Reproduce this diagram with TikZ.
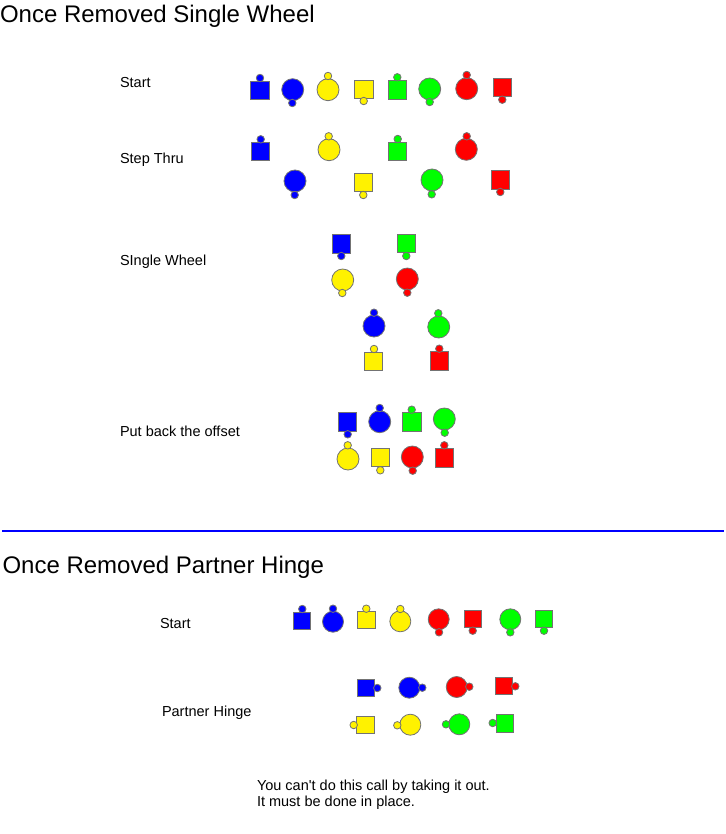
\documentclass[tikz,border=0pt]{standalone}
\usepackage{fontspec}
\setmainfont{Liberation Sans}
\usetikzlibrary{positioning}

\begin{document}
\begin{tikzpicture}[
            x = 1pt, % one unit is one pixel of the sheet
            y = -1pt,
            every node/.style = {inner sep = 0pt, outer sep = 0pt},
            body/.style = {draw = black!55, line width = 0.8pt},
            boy/.style = {body, rectangle, minimum size = 18.5pt},
            girl/.style = {body, circle, minimum size = 22pt},
            smallboy/.style = {body, rectangle, minimum size = 17.5pt},
            smallgirl/.style = {body, circle, minimum size = 21pt},
            nose/.style = {body, circle, minimum size = 7.5pt},
            heading/.style = {anchor = base west, font = \fontsize{24}{27}\selectfont},
            callname/.style = {anchor = base west, font = \fontsize{14.5}{16}\selectfont}
        ]

        \useasboundingbox (0,0) rectangle (725,834);

        % headings and call names
        \node[heading] (title1) at (0,23) {Once Removed Single Wheel};
        \node[callname] (start1) at (120,87.5) {Start};
        \node[callname] (thru) at (120,163.5) {Step Thru};
        \node[callname] (wheel) at (120,265.5) {SIngle Wheel};
        \node[callname] (offset) at (120,436.5) {Put back the offset};
        \node[heading] (title2) at (2.5,573) {Once Removed Partner Hinge};
        \node[callname] (start2) at (160,628.5) {Start};
        \node[callname] (hinge) at (162,716.5) {Partner Hinge};
        \node[callname, align = left, anchor = north west] (note) at (257,780)
            {You can\textquotesingle t do this call by taking it out.\\It must be done in place.};

        \coordinate (ruleL) at (2,531);
        \coordinate (ruleR) at (724,531);
        \draw[blue, line width = 2pt] (ruleL) -- (ruleR);

        % dancers: shape, colour, body centre, nose centre
        \foreach \kind/\col/\x/\y/\nx/\ny [count=\i] in {
            boy/blue/260/90.5/260/78, girl/blue/292.7/89.7/292.3/103,
            girl/yellow/328/89.7/328/76, boy/yellow/363.8/89.5/363.7/101,
            boy/green/397.3/89.7/397.3/77.3, girl/green/429.7/89/429.7/102,
            girl/red/466.7/88.7/466.7/75, boy/red/502.3/87.3/502.3/99.7,
            % step thru
            boy/blue/260.5/151.5/260.7/139.3, girl/yellow/329/149.7/328.7/136.3,
            boy/green/397.5/151.3/397.7/139, girl/red/466.3/149.3/466.7/136.3,
            girl/blue/295/181/294.7/195, boy/yellow/363.5/182.5/363.3/195,
            girl/green/432/180/431.7/194.3, boy/red/500.3/180/500.3/192,
            % single wheel
            boy/blue/341.3/244/341.3/256, boy/green/406.3/243.3/406.3/256,
            girl/yellow/342.7/280/342.3/293, girl/red/407.3/279/407.3/292.7,
            girl/blue/374/326/374/312.7, girl/green/438.7/327/438.3/313.3,
            boy/yellow/373.5/361.5/374/349, boy/red/439.3/361/439.3/348.7,
            % put back the offset
            boy/blue/347.3/421.7/347.7/434.3, girl/blue/379.7/421.7/379.7/408,
            boy/green/411.7/422/411.7/409.7, girl/green/444.3/419/444.7/432.7,
            girl/yellow/348/459/347.7/445.3, boy/yellow/380.3/457.3/380.3/470.3,
            girl/red/412.3/457/412.7/470.7, boy/red/444.3/457.7/444.3/445.3,
            % second start
            smallboy/blue/302/620.7/302.3/609, smallgirl/blue/333/621.7/333/608.7,
            smallboy/yellow/366.5/620/366.3/608.7, smallgirl/yellow/400.3/621.3/400.3/609,
            smallgirl/red/438.7/619.3/439/632.3, smallboy/red/472.7/619/472.7/630.7,
            smallgirl/green/510.3/619.3/510.3/632.3, smallboy/green/544/619/544/630.7,
            % partner hinge
            smallboy/blue/366/687.7/377.3/688, smallgirl/blue/409.3/687.7/422.3/687.7,
            smallgirl/red/456.7/687/469.3/686.7, smallboy/red/504/686/515.3/686.3,
            smallboy/yellow/365.5/725/353.7/725, smallgirl/yellow/410.3/724.7/397.3/725.3,
            smallgirl/green/459.3/724.3/446/724.3, smallboy/green/505/723.3/492.7/723}
        {
            \node[\kind, fill = \col] (d\i) at (\x,\y) {};
            \node[nose, fill = \col] (n\i) at (\nx,\ny) {};
        }

\end{tikzpicture}
\end{document}
